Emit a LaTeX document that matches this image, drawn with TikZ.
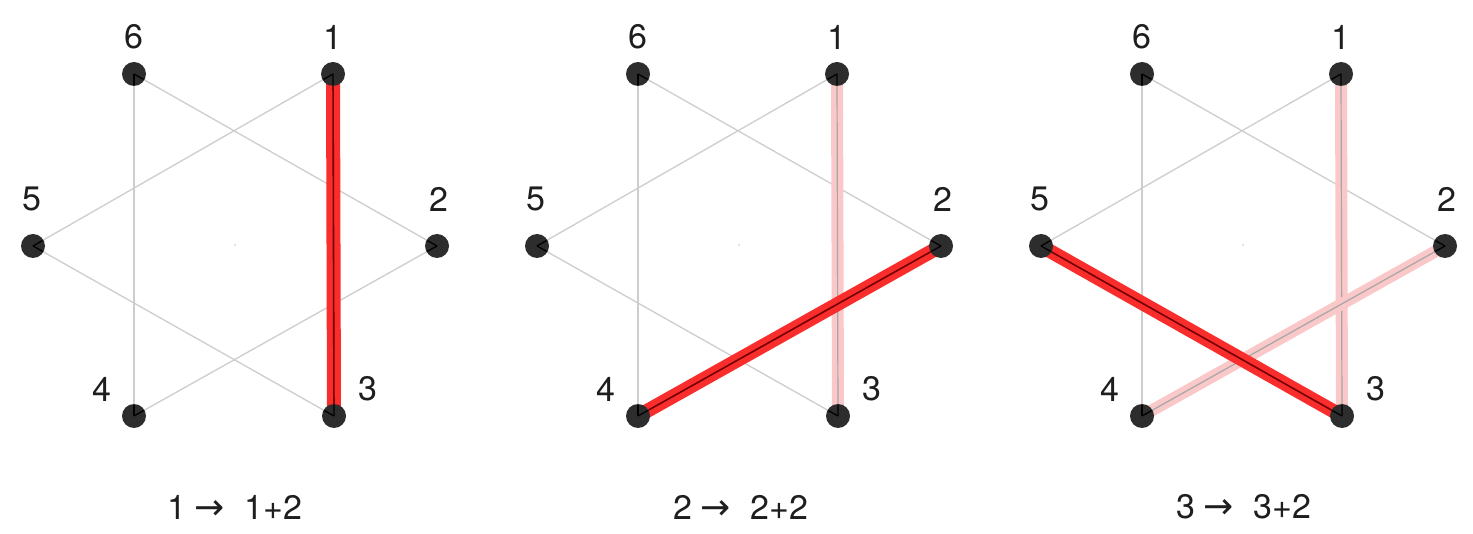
\documentclass[tikz,border=0pt]{standalone}
\usepackage{fontspec}
\setmainfont{TeX Gyre Heros}
\newfontfamily\arrowfont{DejaVu Sans}
\usetikzlibrary{calc}
\definecolor{hl}{RGB}{250,45,45}
\definecolor{pale}{RGB}{250,200,200}
\definecolor{edgec}{RGB}{205,205,205}
\definecolor{vdot}{RGB}{45,45,45}
\definecolor{txt}{RGB}{30,30,30}
\pgfdeclarelayer{bg}
\pgfdeclarelayer{mid}
\pgfsetlayers{bg,mid,main}
\tikzset{
 vtx/.style={circle,fill=vdot,minimum size=24pt,inner sep=0pt},
 lbl/.style={font=\fontsize{34}{34}\selectfont,text=txt,inner sep=0pt},
 gedge/.style={draw=edgec,line width=1.3pt},
 hot/.style={draw=hl,line width=14pt},
 hotcore/.style={draw=red!45!black,line width=1.6pt},
 faint/.style={draw=pale,line width=12pt},
 faintcore/.style={draw=black!35,line width=1.2pt},
 innerseg/.style={draw=black,line width=1.3pt},
 captxt/.style={font=\fontsize{34}{34}\selectfont,text=txt,inner sep=0pt},
 cdot/.style={circle,fill=black!30,minimum size=1.5pt,inner sep=0pt}
}
\newcommand\mkpanel[2]{%
 \begin{scope}[xshift=#2]
  \node[vtx] (#1v1) at (333,74) {};
  \node[vtx] (#1v2) at (437,246) {};
  \node[vtx] (#1v3) at (334,416) {};
  \node[vtx] (#1v4) at (134,416) {};
  \node[vtx] (#1v5) at (33,246) {};
  \node[vtx] (#1v6) at (134,74) {};
  \node[cdot] (#1c) at (235,245) {};
  \node[lbl] (#1l1) at (333,37) {1};
  \node[lbl] (#1l2) at (439,199) {2};
  \node[lbl] (#1l3) at (368,389) {3};
  \node[lbl] (#1l4) at (102,389) {4};
  \node[lbl] (#1l5) at (32,199) {5};
  \node[lbl] (#1l6) at (134,37) {6};
 \end{scope}
 \begin{pgfonlayer}{bg}
  \foreach \u/\w in {6/4,6/2,1/5,1/3,5/3,4/2}{
   \draw[gedge] (#1v\u.center) -- (#1v\w.center);
  }
 \end{pgfonlayer}
 \foreach \u/\w in {6/4,6/2,1/5,1/3,5/3,4/2}{
  \draw[innerseg] (#1v\u.center) -- ($(#1v\u.center)!11pt!(#1v\w.center)$);
  \draw[innerseg] (#1v\w.center) -- ($(#1v\w.center)!11pt!(#1v\u.center)$);
 }
}
\newcommand\hotline[2]{%
 \begin{pgfonlayer}{mid}
  \draw[hot] (#1.center) -- (#2.center);
  \draw[hotcore] (#1.center) -- (#2.center);
 \end{pgfonlayer}}
\newcommand\paleline[2]{%
 \begin{pgfonlayer}{mid}
  \draw[faint] (#1.center) -- (#2.center);
  \draw[faintcore] (#1.center) -- (#2.center);
 \end{pgfonlayer}}
\newcommand\captext[2]{#1\hspace{8pt}{\arrowfont\fontsize{36}{36}\selectfont →}\hspace{20pt}#2}
\begin{document}
\begin{tikzpicture}[x=1pt,y=-1pt]
\useasboundingbox (0,0) rectangle (1473,534);
\mkpanel{a}{0pt}
\mkpanel{b}{504pt}
\mkpanel{c}{1008pt}
\hotline{av1}{av3}
\paleline{bv1}{bv3}
\hotline{bv4}{bv2}
\paleline{cv1}{cv3}
\paleline{cv4}{cv2}
\hotline{cv5}{cv3}
\node[captxt] (cap1) at (235,507) {\captext{1}{1+2}};
\node[captxt] (cap2) at (741,507) {\captext{2}{2+2}};
\node[captxt] (cap3) at (1244,507) {\captext{3}{3+2}};
\end{tikzpicture}
\end{document}
